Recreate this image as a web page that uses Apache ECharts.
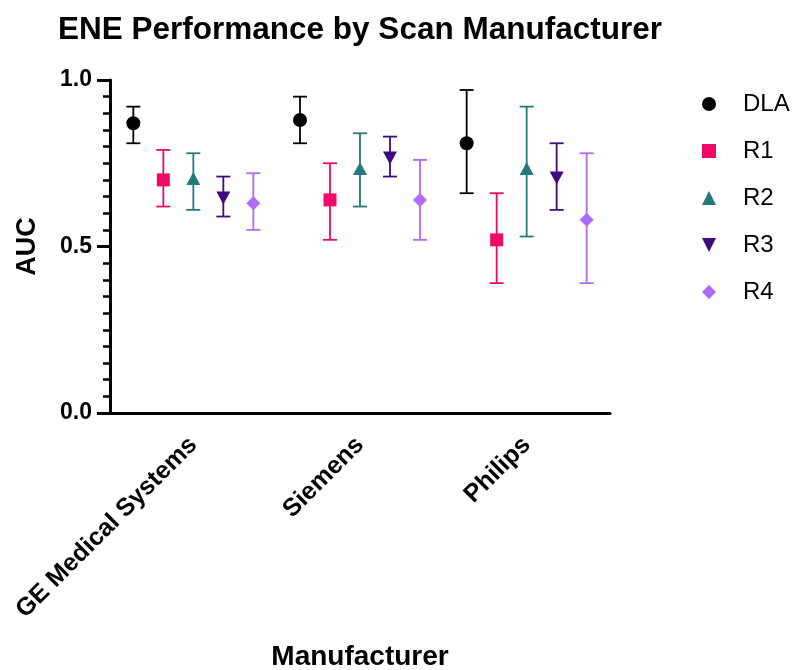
<!DOCTYPE html>
<html><head><meta charset="utf-8">
<script src="https://cdn.jsdelivr.net/npm/echarts@6/dist/echarts.min.js"></script>
<style>html,body{margin:0;padding:0;background:#fff}#c{width:799px;height:670px}</style>
</head><body><div id="c"></div>
<script>
const categories = ['GE Medical Systems', 'Siemens', 'Philips'];
const seriesNames = ['DLA', 'R1', 'R2', 'R3', 'R4'];
const DLA = [0.87, 0.88, 0.81];
const DLA_lo = [0.81, 0.81, 0.66];
const DLA_hi = [0.92, 0.95, 0.97];
const R1 = [0.70, 0.64, 0.52];
const R1_lo = [0.62, 0.52, 0.39];
const R1_hi = [0.79, 0.75, 0.66];
const R2 = [0.70, 0.73, 0.73];
const R2_lo = [0.61, 0.62, 0.53];
const R2_hi = [0.78, 0.84, 0.92];
const R3 = [0.65, 0.77, 0.71];
const R3_lo = [0.59, 0.71, 0.61];
const R3_hi = [0.71, 0.83, 0.81];
const R4 = [0.63, 0.64, 0.58];
const R4_lo = [0.55, 0.52, 0.39];
const R4_hi = [0.72, 0.76, 0.78];
const yTicks = [0, 0.5, 1.0];

const values = [DLA, R1, R2, R3, R4];
const lows = [DLA_lo, R1_lo, R2_lo, R3_lo, R4_lo];
const highs = [DLA_hi, R1_hi, R2_hi, R3_hi, R4_hi];
const colors = ['#000000', '#EF0A68', '#24797A', '#3D0A80', '#B06AFA'];
const shapes = ['circle', 'square', 'triangle', 'invtriangle', 'diamond'];
const offsets = [-60, -30, 0, 30, 60];
const legendIcons = ['circle', 'rect', 'triangle', 'path://M0,0 L10,0 L5,10 Z', 'diamond'];

function markerShape(kind, x, y, color) {
  if (kind === 'circle') return {type: 'circle', shape: {cx: x, cy: y, r: 7}, style: {fill: color}};
  if (kind === 'square') return {type: 'rect', shape: {x: x - 6.5, y: y - 6.5, width: 13, height: 13}, style: {fill: color}};
  if (kind === 'triangle') return {type: 'polygon', shape: {points: [[x, y - 8], [x + 7, y + 5], [x - 7, y + 5]]}, style: {fill: color}};
  if (kind === 'invtriangle') return {type: 'polygon', shape: {points: [[x, y + 8], [x + 7, y - 5], [x - 7, y - 5]]}, style: {fill: color}};
  return {type: 'polygon', shape: {points: [[x, y - 7], [x + 7, y], [x, y + 7], [x - 7, y]]}, style: {fill: color}};
}

const series = seriesNames.map((name, s) => ({
  name: name,
  type: 'custom',
  itemStyle: {color: colors[s]},
  data: categories.map((c, i) => [i, values[s][i], lows[s][i], highs[s][i]]),
  encode: {x: 0, y: [1, 2, 3]},
  renderItem: function (params, api) {
    const i = api.value(0);
    const p = api.coord([i, api.value(1)]);
    const lo = api.coord([i, api.value(2)]);
    const hi = api.coord([i, api.value(3)]);
    const x = p[0] + offsets[s];
    const col = colors[s];
    const ls = {stroke: col, lineWidth: 1.8};
    return {
      type: 'group',
      children: [
        {type: 'line', shape: {x1: x, y1: hi[1], x2: x, y2: lo[1]}, style: ls},
        {type: 'line', shape: {x1: x - 7, y1: hi[1], x2: x + 7, y2: hi[1]}, style: ls},
        {type: 'line', shape: {x1: x - 7, y1: lo[1], x2: x + 7, y2: lo[1]}, style: ls},
        markerShape(shapes[s], x, p[1], col)
      ]
    };
  }
}));

const chart = echarts.init(document.getElementById('c'), null, {renderer: 'canvas'});
chart.setOption({
  animation: false,
  backgroundColor: '#ffffff',
  title: {
    text: 'ENE Performance by Scan Manufacturer',
    left: 53, top: 9,
    textStyle: {fontFamily: 'Liberation Sans', fontWeight: 'bold', fontSize: 31.5, color: '#000'}
  },
  legend: {
    orient: 'vertical',
    left: 697, top: 87,
    itemWidth: 14, itemHeight: 14,
    itemGap: 23,
    data: seriesNames.map((n, s) => ({name: n, icon: legendIcons[s], itemStyle: {color: colors[s]}})),
    textStyle: {fontFamily: 'Liberation Sans', fontSize: 24, color: '#000', padding: [0, 0, 0, 22]}
  },
  grid: {left: 110, right: 189, top: 80, bottom: 257, containLabel: false, outerBoundsMode: 'none'},
  xAxis: {
    type: 'category',
    data: categories,
    name: 'Manufacturer',
    nameLocation: 'middle',
    nameGap: 230,
    nameTextStyle: {fontFamily: 'Liberation Sans', fontWeight: 'bold', fontSize: 28, color: '#000'},
    axisLine: {lineStyle: {color: '#000', width: 3}},
    axisTick: {alignWithLabel: true, length: 12, lineStyle: {width: 3, color: '#000'}},
    axisLabel: {rotate: 45, margin: 28, fontFamily: 'Liberation Sans', fontWeight: 'bold', fontSize: 25, color: '#000'},
    splitLine: {show: false}
  },
  yAxis: {
    type: 'value',
    min: yTicks[0], max: yTicks[yTicks.length - 1], interval: 0.5,
    name: 'AUC',
    nameLocation: 'middle',
    nameGap: 69,
    nameTextStyle: {fontFamily: 'Liberation Sans', fontWeight: 'bold', fontSize: 27, color: '#000'},
    axisLine: {show: true, lineStyle: {color: '#000', width: 3}},
    axisTick: {show: true, length: 13, lineStyle: {width: 3, color: '#000'}},
    minorTick: {show: true, splitNumber: 10, length: 7, lineStyle: {width: 2.5, color: '#000'}},
    axisLabel: {margin: 18, fontFamily: 'Liberation Sans', fontWeight: 'bold', fontSize: 23, color: '#000',
      formatter: v => v.toFixed(1)},
    splitLine: {show: false}
  },
  series: series
});
</script></body></html>
